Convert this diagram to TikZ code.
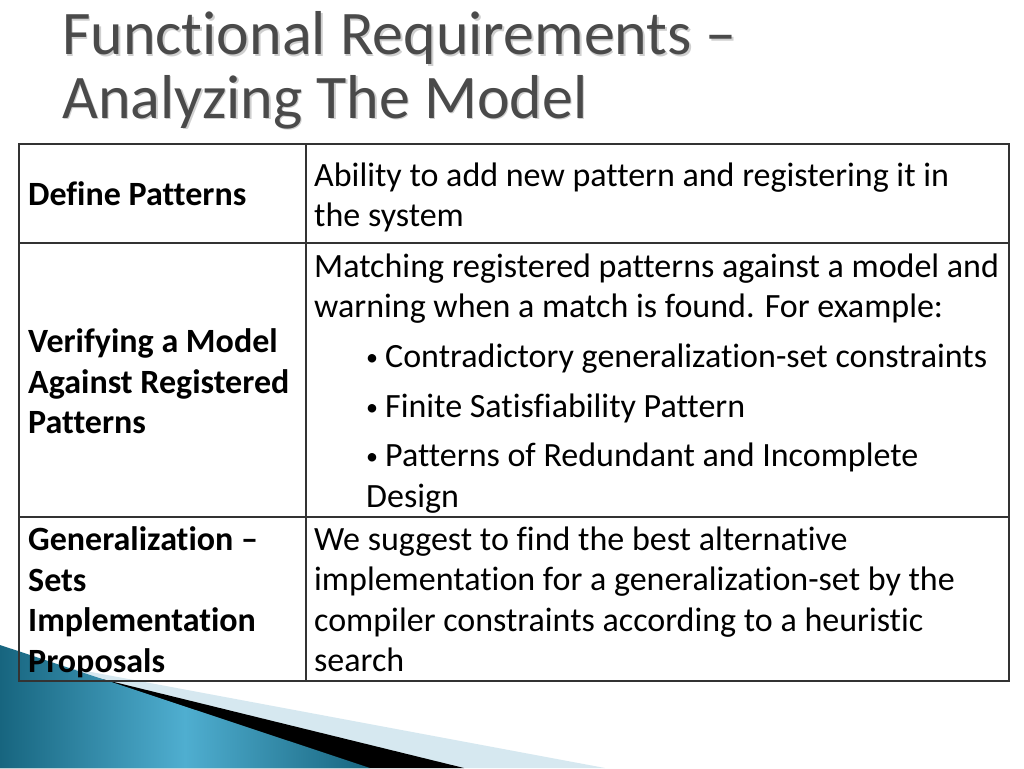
\documentclass[tikz,border=0pt]{standalone}
\usepackage{fontspec}
\setmainfont{Carlito}[Ligatures={NoCommon,NoContextual}]
\definecolor{titlegray}{HTML}{4A4A4A}
\definecolor{titleshadow}{HTML}{CFCFCF}
\definecolor{tealdark}{HTML}{17657F}
\definecolor{teallight}{HTML}{4FAED0}
\definecolor{paleblue}{HTML}{D6E8F0}
\definecolor{gridline}{HTML}{333333}
\newcommand{\bul}{\makebox[19pt][l]{\fontsize{24}{24}\selectfont\raisebox{2pt}{•}}}
\begin{document}
\begin{tikzpicture}[x=1pt,y=-1pt,
  titletext/.style={anchor=base west,inner sep=0pt,text=titlegray,font=\fontsize{62}{70}\selectfont},
  titleshade/.style={anchor=base west,inner sep=0pt,text=titleshadow,font=\fontsize{62}{70}\selectfont},
  celltext/.style={anchor=base west,inner sep=0pt,font=\fontsize{34}{41}\selectfont},
  headtext/.style={anchor=base west,inner sep=0pt,font=\fontsize{34}{41}\selectfont\bfseries},
  gridstyle/.style={draw=gridline,line width=1.5pt}]
\useasboundingbox (0,0) rectangle (1024,768);
\fill[white] (0,0) rectangle (1024,768);
% decoration bottom-left
\fill[paleblue] (0,655) -- (605,768) -- (0,768) -- cycle;
\fill[black] (0,654) -- (464,768) -- (0,768) -- cycle;
\shade[left color=tealdark,right color=tealdark,middle color=teallight] (0,645) -- (370,768) -- (0,768) -- cycle;
% title
\node[titleshade] (t1s) at (63.5,56.5) {Functional Requirements –};
\node[titleshade] (t2s) at (63.5,119.5) {Analyzing The Model};
\node[titletext] (t1) at (62,55) {Functional Requirements –};
\node[titletext] (t2) at (62,118) {Analyzing The Model};
% table grid
\coordinate (tl) at (19,144);
\coordinate (br) at (1009,681);
\draw[gridstyle] (tl) rectangle (br);
\draw[gridstyle] (306,144) -- (306,681);
\draw[gridstyle] (19,243) -- (1009,243);
\draw[gridstyle] (19,517) -- (1009,517);
% left column
\node[headtext] (h1) at (28,205) {Define Patterns};
\node[headtext] (h2a) at (28,352) {Verifying a Model};
\node[headtext] (h2b) at (28,393) {Against Registered};
\node[headtext] (h2c) at (28,433) {Patterns};
\node[headtext] (h3a) at (28,550) {Generalization –};
\node[headtext] (h3b) at (28,591) {Sets};
\node[headtext] (h3c) at (28,631) {Implementation};
\node[headtext] (h3d) at (28,672) {Proposals};
% right column
\node[celltext] (r1a) at (314,186) {Ability to add new pattern and registering it in};
\node[celltext] (r1b) at (314,226) {the system};
\node[celltext] (r2a) at (314,277) {Matching registered patterns against a model and};
\node[celltext] (r2b) at (314,317) {warning when a match is found. For example:};
\node[celltext] (b1) at (366,367) {\bul Contradictory generalization-set constraints};
\node[celltext] (b2) at (366,417) {\bul Finite Satisfiability Pattern};
\node[celltext] (b3) at (366,466) {\bul Patterns of Redundant and Incomplete};
\node[celltext] (b3b) at (366,507) {Design};
\node[celltext] (r3a) at (314,550) {We suggest to find the best alternative};
\node[celltext] (r3b) at (314,590) {implementation for a generalization-set by the};
\node[celltext] (r3c) at (314,631) {compiler constraints according to a heuristic};
\node[celltext] (r3d) at (314,671) {search};
\end{tikzpicture}
\end{document}
